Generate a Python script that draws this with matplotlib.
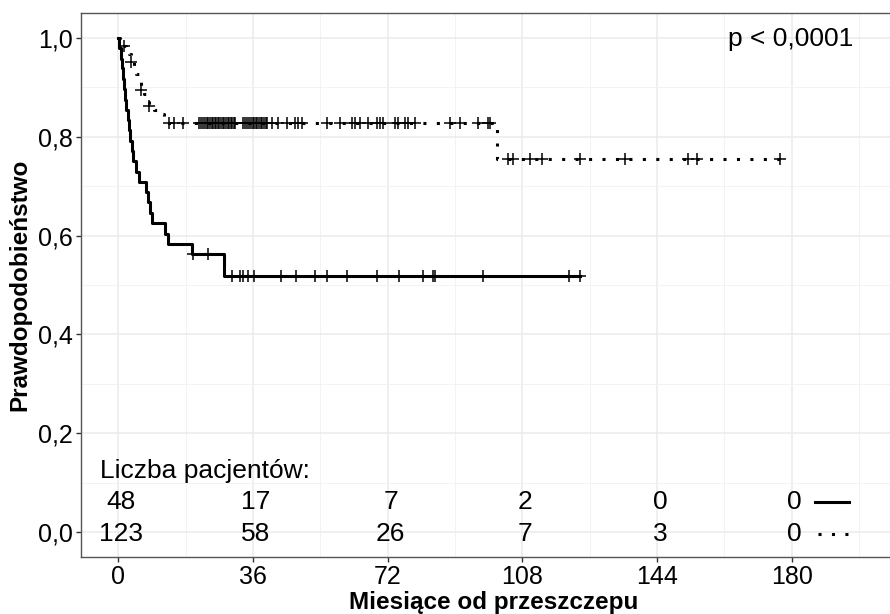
import numpy as np
import matplotlib
matplotlib.use("Agg")
import matplotlib.pyplot as plt

plt.rcParams['font.family'] = ['Liberation Sans', 'DejaVu Sans']

# grupa 1 - linia ciagla (n=48): czasy zdarzen [mies.] i przezycie po zdarzeniu
solid_t = [0.3, 0.6, 0.9, 1.2, 1.5, 1.8, 2.1, 2.5, 2.9, 3.2, 3.6, 4.0, 4.6, 5.5,
           7.4, 7.9, 8.5, 9.0, 12.6, 13.4, 19.6, 28.3]
solid_s = [0.979, 0.958, 0.938, 0.917, 0.896, 0.875, 0.854, 0.833, 0.813, 0.792,
           0.771, 0.750, 0.729, 0.708, 0.688, 0.667, 0.646, 0.625, 0.604, 0.583,
           0.563, 0.518]
solid_cens = [19.9, 24.1, 30.5, 32.5, 33.4, 34.6, 36.3, 43.4, 47.4, 52.6, 55.9,
              61.2, 69.2, 75.0, 81.4, 84.2, 84.7, 97.6, 120.6, 123.4]
solid_end = 123.4

# grupa 2 - linia kropkowana (n=123)
dot_t = [0.5, 1.2, 2.0, 2.8, 3.5, 4.2, 4.8, 5.5, 6.1, 6.8, 7.5, 8.3, 9.5, 11.0,
         12.3, 13.0, 101.3]
dot_s = [0.992, 0.984, 0.976, 0.967, 0.951, 0.943, 0.927, 0.911, 0.895, 0.886,
         0.870, 0.862, 0.854, 0.846, 0.838, 0.827, 0.754]
dot_cens = [1.4, 3.5, 6.1, 8.3, 13.6, 14.8, 17.3,
            21.6, 22.1, 22.7, 23.2, 23.6, 24.1, 24.5, 25.0, 25.4, 25.8, 26.2,
            26.6, 27.0, 27.4, 27.9, 28.3, 28.7, 29.2, 29.6, 30.0, 30.5, 30.9,
            31.3, 33.3, 33.9, 34.5, 35.0, 35.4, 35.9, 36.3, 36.8, 37.2, 37.7,
            38.1, 38.5, 38.9, 39.4, 39.8, 41.0, 42.8,
            45.0, 47.2, 48.1, 49.0, 55.7, 59.3, 62.4, 63.3, 64.6, 66.8, 69.1, 69.9,
            70.8, 73.9, 74.8, 76.6, 77.5, 79.3, 88.7, 91.3, 96.2, 98.9, 99.4,
            104.3, 105.6, 110.0, 113.2, 123.4, 135.4, 152.4, 154.6, 176.9]
dot_end = 176.9

risk_times = [0, 36, 72, 108, 144, 180]
risk_solid = [48, 17, 7, 2, 0, 0]
risk_dot = [123, 58, 26, 7, 3, 0]


def surv_at(times, surv, when):
    idx = np.searchsorted(times, when, side='right')
    return np.r_[1.0, surv][idx]


fig = plt.figure(figsize=(8.9, 6.14), dpi=100)
ax = fig.add_axes([0.0907, 0.0928, 0.9291, 0.886])

grid_c = '#EBEBEB'
for x in range(0, 217, 36):
    ax.axvline(x, color=grid_c, lw=1.1, zorder=0)
for x in range(18, 217, 36):
    ax.axvline(x, color='#F3F3F3', lw=0.7, zorder=0)
for y in np.arange(0, 1.01, 0.2):
    ax.axhline(y, color=grid_c, lw=1.1, zorder=0)
for y in np.arange(0.1, 1.01, 0.2):
    ax.axhline(y, color='#F3F3F3', lw=0.7, zorder=0)

# krzywe
xs = np.r_[0, solid_t, solid_end]
ys = np.r_[1.0, solid_s, solid_s[-1]]
ax.step(xs, ys, where='post', color='black', lw=2.2, zorder=3)
ax.plot(solid_cens, surv_at(solid_t, solid_s, solid_cens), ls='none', marker='+',
        ms=8.5, mew=1.1, color='black', zorder=4)

xd = np.r_[0, dot_t, dot_end]
yd = np.r_[1.0, dot_s, dot_s[-1]]
ax.step(xd, yd, where='post', color='black', lw=2.2, ls=(0, (1, 3.4)),
        dash_capstyle='butt', zorder=3)
ax.plot(dot_cens, surv_at(dot_t, dot_s, dot_cens), ls='none', marker='+',
        ms=8.5, mew=1.1, color='black', zorder=4)

# tabela liczby pacjentow
fs = 19
ax.text(-4.9, 0.123, 'Liczba pacjentów:', fontsize=fs, ha='left', va='center')
for t, a, b in zip(risk_times, risk_solid, risk_dot):
    ax.text(t + 0.8, 0.061, str(a), fontsize=fs, ha='center', va='center')
    ax.text(t + 0.8, -0.004, str(b), fontsize=fs, ha='center', va='center')
ax.plot([186.3, 195.2], [0.061, 0.061], color='black', lw=2.2)
ax.plot([187.0, 195.4], [-0.004, -0.004], color='black', lw=2.2,
        ls=(0, (1, 3.4)), dash_capstyle='butt')

ax.text(196.4, 0.997, 'p < 0,0001', fontsize=fs, ha='right', va='center')

ax.set_xlim(-10.05, 211)
ax.set_ylim(-0.05, 1.05)
ax.set_xticks(risk_times)
ax.set_xticklabels([str(t) for t in risk_times])
ax.set_yticks([0, 0.2, 0.4, 0.6, 0.8, 1.0])
ax.set_yticklabels(['0,0', '0,2', '0,4', '0,6', '0,8', '1,0'])
ax.tick_params(labelsize=18, length=3.5, width=1, color='#333333',
               labelcolor='black', pad=2)

for side in ['left', 'bottom', 'top']:
    ax.spines[side].set_color('#555555')
    ax.spines[side].set_linewidth(1.0)
ax.spines['right'].set_visible(False)

ax.set_xlabel('Miesiące od przeszczepu', fontsize=17.5, fontweight='bold', labelpad=2)
ax.set_ylabel('Prawdopodobieństwo', fontsize=17.5, fontweight='bold', labelpad=5)

fig.savefig('out.png', dpi=100)
